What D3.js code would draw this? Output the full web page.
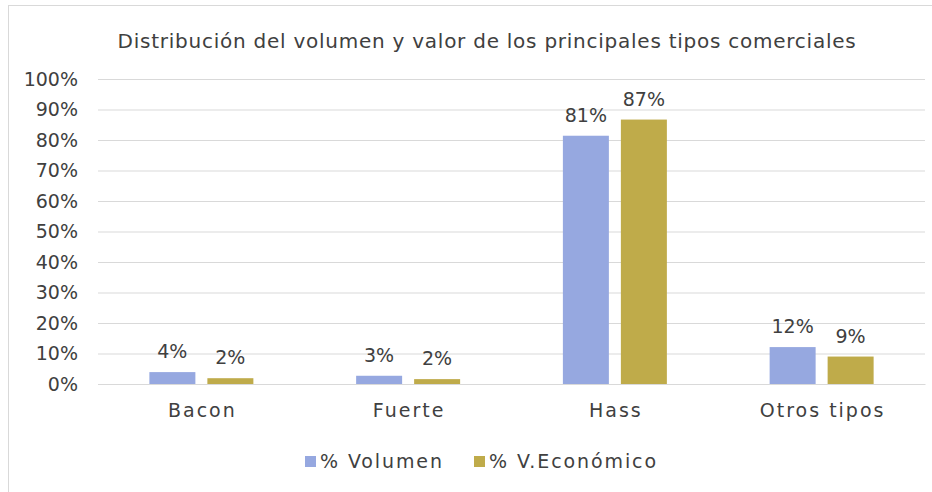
<!DOCTYPE html>
<html>
<head>
<meta charset="utf-8">
<script src="https://cdn.jsdelivr.net/npm/d3@7"></script>
<style>
  html, body { margin: 0; padding: 0; background: #ffffff; }
  svg { display: block; }
  text { font-family: "DejaVu Sans", "Noto Sans", sans-serif; fill: #404040; }
</style>
</head>
<body>
<svg id="chart" width="932" height="492"></svg>
<script>
const title = "Distribución del volumen y valor de los principales tipos comerciales";
const categories = ["Bacon", "Fuerte", "Hass", "Otros tipos"];
const seriesNames = ["% Volumen", "% V.Económico"];
const volumen = [0.039, 0.027, 0.814, 0.121];
const economico = [0.019, 0.016, 0.867, 0.090];
const yTicks = [0, 0.1, 0.2, 0.3, 0.4, 0.5, 0.6, 0.7, 0.8, 0.9, 1.0];
const colors = ["#96a8e0", "#bfab4a"];

const svg = d3.select("#chart");

// frame
svg.append("rect").attr("x", 8.5).attr("y", 5.5).attr("width", 940).attr("height", 500)
  .attr("fill", "#fff").attr("stroke", "#d9d9d9").attr("stroke-width", 1);

const plot = { left: 98, right: 925, top: 79, bottom: 384 };

const y = d3.scaleLinear().domain([0, 1]).range([plot.bottom, plot.top]);
const x0 = d3.scaleBand().domain(categories).range([plot.left, plot.right])
  .paddingInner(0.497).paddingOuter(0.2485);
const x1 = d3.scaleBand().domain(seriesNames).range([0, x0.bandwidth()]).paddingInner(0.2069);

// gridlines + y axis
const yAxis = d3.axisLeft(y).tickValues(yTicks).tickFormat(d3.format(".0%"))
  .tickSize(-(plot.right - plot.left)).tickPadding(20);
const gy = svg.append("g").attr("transform", `translate(${plot.left},0)`).call(yAxis);
gy.select(".domain").remove();
gy.selectAll(".tick line").attr("stroke", "#d9d9d9").attr("stroke-width", 1);
gy.selectAll(".tick text").attr("font-size", 19).attr("fill", "#404040")
  .style("font-family", '"DejaVu Sans", sans-serif');

// x axis
const xAxis = d3.axisBottom(x0).tickSize(0).tickPadding(20);
const gx = svg.append("g").attr("transform", `translate(0,${plot.bottom})`).call(xAxis);
gx.select(".domain").attr("stroke", "#d9d9d9");
gx.selectAll(".tick text").attr("font-size", 19).attr("fill", "#404040")
  .attr("letter-spacing", 2).attr("dx", 1)
  .style("font-family", '"DejaVu Sans", sans-serif');

// data
const rows = categories.map((c, i) => ({ cat: c, vals: [volumen[i], economico[i]] }));
const groups = svg.append("g").selectAll("g").data(rows).join("g")
  .attr("transform", d => `translate(${x0(d.cat)},0)`);

groups.selectAll("rect").data(d => d.vals.map((v, j) => ({ s: seriesNames[j], v, j })))
  .join("rect")
  .attr("x", d => x1(d.s))
  .attr("width", x1.bandwidth())
  .attr("y", d => y(d.v))
  .attr("height", d => y(0) - y(d.v))
  .attr("fill", d => colors[d.j]);

groups.selectAll("text.lbl").data(d => d.vals.map((v, j) => ({ s: seriesNames[j], v, j })))
  .join("text").attr("class", "lbl")
  .attr("x", d => x1(d.s) + x1.bandwidth() / 2)
  .attr("y", d => y(d.v) - 14)
  .attr("text-anchor", "middle")
  .attr("font-size", 19)
  .text(d => d3.format(".0%")(d.v));

// title
svg.append("text").attr("x", 487).attr("y", 48).attr("text-anchor", "middle")
  .attr("font-size", 20).attr("letter-spacing", 0.75).text(title);

// legend
const legendItems = [{ name: seriesNames[0], x: 305 }, { name: seriesNames[1], x: 474 }];
const lg = svg.append("g").selectAll("g").data(legendItems).join("g")
  .attr("transform", d => `translate(${d.x},456)`);
lg.append("rect").attr("width", 11).attr("height", 11).attr("fill", (d, i) => colors[i]);
lg.append("text").attr("x", 15).attr("y", 12).attr("font-size", 19)
  .attr("letter-spacing", 1.9).text(d => d.name);
</script>
</body>
</html>
